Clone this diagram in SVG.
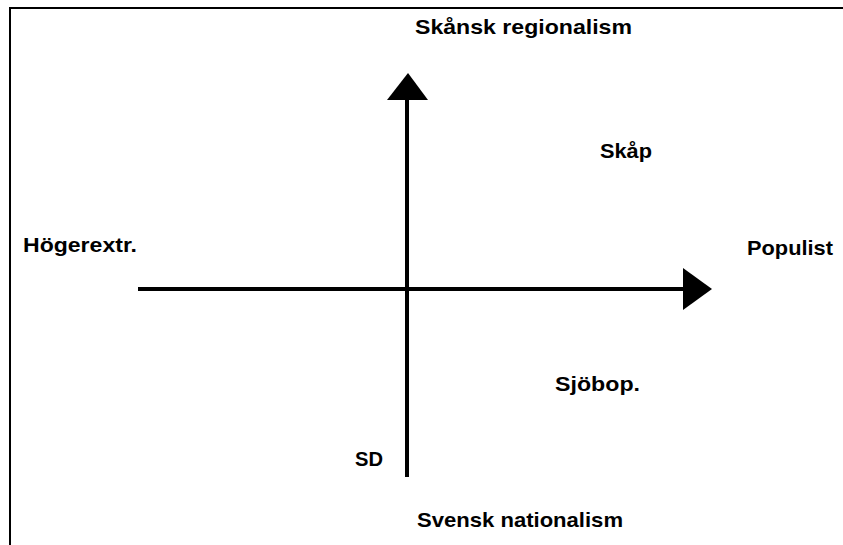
<svg xmlns="http://www.w3.org/2000/svg" width="843" height="545" viewBox="0 0 843 545">
<style>
.lbl{font-family:"Liberation Sans",Arial,sans-serif;font-weight:bold;font-size:21px;fill:#000}
.axis{stroke:#000;stroke-width:4;fill:none}
.frame{stroke:#000;stroke-width:2;fill:none}
</style>
<rect width="843" height="545" fill="#fff"/>
<path class="frame" d="M10,545 V8 H843"/>
<g id="connectors">
<line class="axis" x1="407" y1="477" x2="407" y2="98"/>
<polygon points="408,73 428,100 387,100" fill="#000"/>
<line class="axis" x1="138" y1="289" x2="686" y2="289"/>
<polygon points="712,289 683,268 683,310" fill="#000"/>
</g>
<g id="n-skansk"><text class="lbl" x="415" y="34" textLength="217" lengthAdjust="spacingAndGlyphs">Skånsk regionalism</text></g>
<g id="n-skap"><text class="lbl" x="600" y="158" textLength="52" lengthAdjust="spacingAndGlyphs">Skåp</text></g>
<g id="n-hoger"><text class="lbl" x="23" y="252" textLength="114" lengthAdjust="spacingAndGlyphs">Högerextr.</text></g>
<g id="n-populist"><text class="lbl" x="747" y="255" textLength="86" lengthAdjust="spacingAndGlyphs">Populist</text></g>
<g id="n-sjobop"><text class="lbl" x="555" y="391" textLength="85" lengthAdjust="spacingAndGlyphs">Sjöbop.</text></g>
<g id="n-sd"><text class="lbl" x="355" y="466" textLength="28" lengthAdjust="spacingAndGlyphs">SD</text></g>
<g id="n-svensk"><text class="lbl" x="417" y="527" textLength="206" lengthAdjust="spacingAndGlyphs">Svensk nationalism</text></g>
</svg>
